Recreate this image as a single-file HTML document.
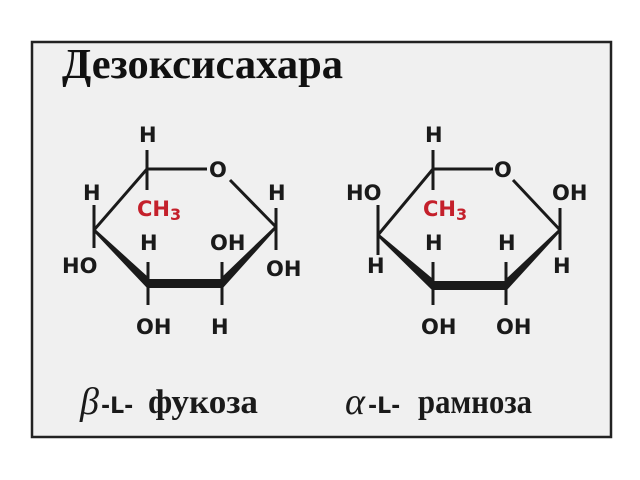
<!DOCTYPE html>
<html><head><meta charset="utf-8"><style>
html,body{margin:0;padding:0;background:#fff;}
svg{display:block}
.a{font-family:"DejaVu Sans","Liberation Sans",sans-serif;font-weight:bold;font-size:21px;fill:#1a1a1a}
.r{fill:#c4202b}
.t{font-family:"Liberation Serif",serif;font-weight:bold}
</style></head><body>
<svg width="640" height="480" viewBox="0 0 640 480" xmlns="http://www.w3.org/2000/svg">
<rect x="32" y="42" width="579" height="395" fill="#f0f0f0" stroke="#222" stroke-width="2.5"/>
<text x="62" y="78" class="t" font-size="42" fill="#111" textLength="281" lengthAdjust="spacingAndGlyphs">Дезоксисахара</text>

<g id="m1">
 <g stroke="#1a1a1a" stroke-width="3" fill="none">
  <line x1="147" y1="169" x2="207" y2="169"/>
  <line x1="230" y1="180" x2="276" y2="227"/>
  <line x1="147" y1="169" x2="94" y2="230"/>
  <line x1="147" y1="150" x2="147" y2="190"/>
  <line x1="94" y1="205" x2="94" y2="248"/>
  <line x1="148" y1="262" x2="148" y2="305"/>
  <line x1="222" y1="262" x2="222" y2="305"/>
  <line x1="276" y1="208" x2="276" y2="250"/>
 </g>
 <polygon points="94,228 94,232 148,289 148,277" fill="#1a1a1a"/>
 <rect x="148" y="279" width="74" height="9" fill="#1a1a1a"/>
 <polygon points="222,277 222,289 276,229 276,225" fill="#1a1a1a"/>
 <text class="a" x="139" y="142">H</text>
 <text class="a" x="209" y="177">O</text>
 <text class="a r" x="137" y="216">CH<tspan font-size="16" dy="4">3</tspan></text>
 <text class="a" x="83" y="200">H</text>
 <text class="a" x="62" y="273">HO</text>
 <text class="a" x="140" y="250">H</text>
 <text class="a" x="210" y="250">OH</text>
 <text class="a" x="136" y="334">OH</text>
 <text class="a" x="211" y="334">H</text>
 <text class="a" x="268" y="200">H</text>
 <text class="a" x="266" y="276">OH</text>
</g>

<g id="m2">
 <g stroke="#1a1a1a" stroke-width="3" fill="none">
  <line x1="433" y1="169" x2="493" y2="169"/>
  <line x1="513" y1="180" x2="560" y2="230"/>
  <line x1="433" y1="169" x2="378" y2="235"/>
  <line x1="433" y1="150" x2="433" y2="190"/>
  <line x1="378" y1="205" x2="378" y2="255"/>
  <line x1="433" y1="262" x2="433" y2="305"/>
  <line x1="506" y1="262" x2="506" y2="305"/>
  <line x1="560" y1="208" x2="560" y2="250"/>
 </g>
 <polygon points="378,233 378,237 433,291 433,279" fill="#1a1a1a"/>
 <rect x="433" y="281" width="73" height="9" fill="#1a1a1a"/>
 <polygon points="506,279 506,291 560,232 560,228" fill="#1a1a1a"/>
 <text class="a" x="425" y="142">H</text>
 <text class="a" x="494" y="177">O</text>
 <text class="a r" x="423" y="216">CH<tspan font-size="16" dy="4">3</tspan></text>
 <text class="a" x="346" y="200">HO</text>
 <text class="a" x="367" y="273">H</text>
 <text class="a" x="425" y="250">H</text>
 <text class="a" x="498" y="250">H</text>
 <text class="a" x="421" y="334">OH</text>
 <text class="a" x="496" y="334">OH</text>
 <text class="a" x="552" y="200">OH</text>
 <text class="a" x="553" y="273">H</text>
</g>

<text x="80" y="414" font-family="Liberation Serif,serif" font-style="italic" font-size="38" fill="#1a1a1a">β</text>
<text x="101" y="413" font-family="DejaVu Sans,sans-serif" font-weight="bold" font-size="22" fill="#1a1a1a">-L-</text>
<text x="148" y="413" class="t" font-size="34" fill="#1a1a1a" textLength="110" lengthAdjust="spacingAndGlyphs">фукоза</text>
<text x="345" y="414" font-family="Liberation Serif,serif" font-style="italic" font-size="38" fill="#1a1a1a">α</text>
<text x="368" y="413" font-family="DejaVu Sans,sans-serif" font-weight="bold" font-size="22" fill="#1a1a1a">-L-</text>
<text x="418" y="413" class="t" font-size="34" fill="#1a1a1a" textLength="114" lengthAdjust="spacingAndGlyphs">рамноза</text>
</svg>
</body></html>
